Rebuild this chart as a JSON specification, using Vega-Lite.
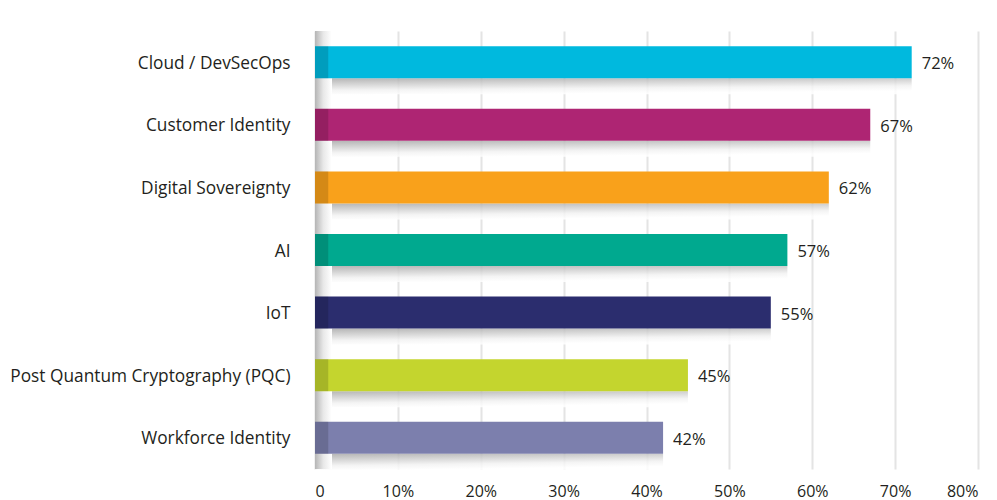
{
  "$schema": "https://vega.github.io/schema/vega-lite/v6.json",
  "width": 663,
  "height": 438,
  "autosize": {"type": "none"},
  "padding": {"left": 315, "top": 31, "right": 19, "bottom": 31},
  "background": "white",
  "config": {
    "view": {"stroke": null},
    "font": "Open Sans",
    "axis": {"labelFont": "Open Sans", "labelColor": "#231f20"}
  },
  "data": {
    "values": [
      {"topic": "Cloud / DevSecOps", "pct": 72},
      {"topic": "Customer Identity", "pct": 67},
      {"topic": "Digital Sovereignty", "pct": 62},
      {"topic": "AI", "pct": 57},
      {"topic": "IoT", "pct": 55},
      {"topic": "Post Quantum Cryptography (PQC)", "pct": 45},
      {"topic": "Workforce Identity", "pct": 42}
    ]
  },
  "encoding": {
    "y": {
      "field": "topic", "type": "nominal", "sort": null, "title": null,
      "scale": {"paddingInner": 0.49, "paddingOuter": 0.245},
      "axis": {"domain": false, "ticks": false, "labelPadding": 25, "labelFontSize": 17.3, "labelLimit": 400, "labelOffset": 1.5}
    },
    "x": {
      "field": "pct", "type": "quantitative", "title": null,
      "scale": {"domain": [0, 80], "nice": false},
      "axis": {
        "values": [0, 10, 20, 30, 40, 50, 60, 70, 80],
        "labelExpr": "datum.value == 0 ? '0' : datum.value + '%'",
        "domain": false, "ticks": false, "labelPadding": 14,
        "gridColor": "#e4e4e4", "gridWidth": 2, "labelFontSize": 16
      }
    }
  },
  "layer": [
    {
      "mark": {
        "type": "bar", "height": 16, "yOffset": 24,
        "color": {"gradient": "linear", "x1": 0, "y1": 0, "x2": 0.3, "y2": 1,
          "stops": [{"offset": 0, "color": "#a8a8a8"}, {"offset": 0.7, "color": "#f2f2f2"}, {"offset": 1, "color": "#ffffff"}]},
        "opacity": 0.85
      },
      "encoding": {}
    },
    {
      "mark": {
        "type": "rect",
        "color": {"gradient": "linear", "x1": 0, "y1": 0, "x2": 1, "y2": 0,
          "stops": [{"offset": 0, "color": "#b5b5b5"}, {"offset": 0.5, "color": "#e8e8e8"}, {"offset": 1, "color": "#ffffff"}]}
      },
      "encoding": {"x": {"datum": 0}, "x2": {"datum": 2}, "y": {"value": 0}, "y2": {"value": "height"}}
    },
    {
      "mark": {"type": "bar", "height": 32},
      "encoding": {
        "color": {
          "field": "topic", "type": "nominal", "legend": null,
          "scale": {
            "domain": ["Cloud / DevSecOps", "Customer Identity", "Digital Sovereignty", "AI", "IoT", "Post Quantum Cryptography (PQC)", "Workforce Identity"],
            "range": ["#00b9de", "#ae2573", "#f9a11b", "#00a98f", "#2b2d6e", "#c4d52e", "#7c7fad"]
          }
        }
      }
    },
    {
      "mark": {"type": "bar", "height": 32, "color": "#000000", "opacity": 0.15},
      "encoding": {"x": {"datum": 0}, "x2": {"datum": 1.6}}
    },
    {
      "mark": {"type": "text", "align": "left", "dx": 10, "dy": 2, "fontSize": 16.5, "font": "Open Sans", "color": "#231f20", "text": {"expr": "datum.pct + '%'"}},
      "encoding": {}
    }
  ]
}
